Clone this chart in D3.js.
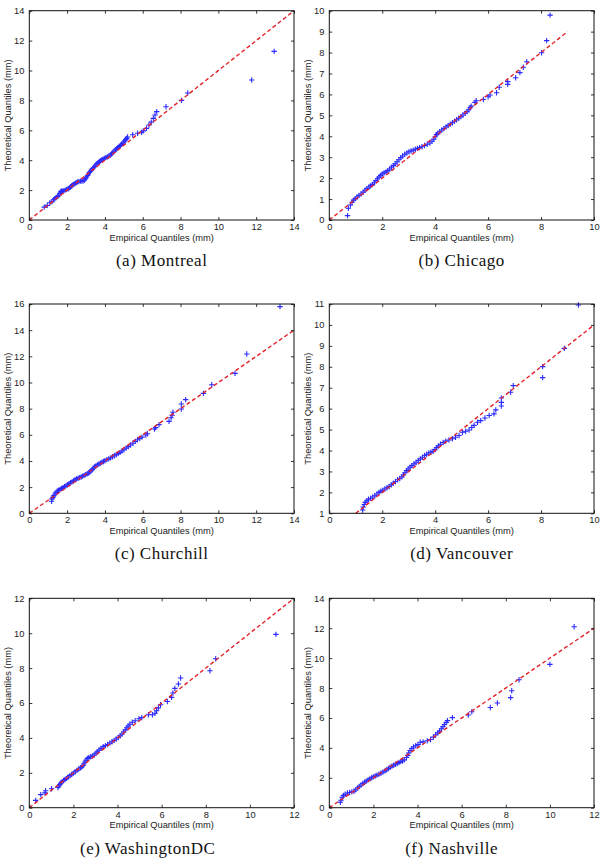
<!DOCTYPE html>
<html><head><meta charset="utf-8">
<script src="https://cdn.jsdelivr.net/npm/d3@7"></script>
<style>
body{margin:0;background:#fff}
</style>
</head><body>
<svg id="chart" width="603" height="864"></svg>
<script>
// Empirical (x) vs theoretical (y) quantiles, mm
const montrealQ = [[0.79,0.86],[0.95,0.98],[1.09,1.15],[1.2,1.22],[1.28,1.35],[1.35,1.42],[1.42,1.5],[1.5,1.58],[1.56,1.66],[1.62,1.78],[1.66,1.88],[1.7,1.93],[1.76,1.92],[1.82,1.95],[1.9,2.0],[1.98,2.05],[2.06,2.08],[2.12,2.15],[2.18,2.22],[2.24,2.27],[2.3,2.33],[2.36,2.4],[2.42,2.45],[2.48,2.5],[2.55,2.55],[2.62,2.57],[2.7,2.6],[2.78,2.6],[2.85,2.63],[2.92,2.68],[2.98,2.76],[3.03,2.88],[3.08,2.98],[3.13,3.08],[3.18,3.18],[3.23,3.26],[3.28,3.33],[3.34,3.42],[3.4,3.5],[3.46,3.6],[3.52,3.68],[3.58,3.76],[3.64,3.84],[3.7,3.9],[3.76,3.96],[3.83,4.02],[3.9,4.07],[3.97,4.12],[4.05,4.18],[4.13,4.22],[4.2,4.26],[4.28,4.33],[4.35,4.42],[4.42,4.52],[4.48,4.6],[4.55,4.68],[4.62,4.76],[4.68,4.84],[4.75,4.92],[4.82,4.98],[4.88,5.06],[4.95,5.14],[5.0,5.22],[5.06,5.3],[5.1,5.38],[5.15,5.46],[5.2,5.55],[5.47,5.7],[5.73,5.8],[5.94,5.86],[6.03,5.96],[6.2,6.13],[6.33,6.35],[6.45,6.55],[6.56,6.8],[6.65,7.02],[6.74,7.25],[7.23,7.58],[8.05,8.0],[8.38,8.5],[11.76,9.36],[12.95,11.28]];
const chicagoQ = [[0.69,0.21],[0.72,0.56],[0.8,0.72],[0.86,0.85],[0.92,0.95],[0.98,1.02],[1.05,1.1],[1.12,1.17],[1.2,1.24],[1.28,1.33],[1.35,1.42],[1.42,1.5],[1.5,1.58],[1.56,1.63],[1.63,1.7],[1.7,1.78],[1.76,1.88],[1.82,1.97],[1.88,2.05],[1.94,2.13],[2.0,2.2],[2.07,2.25],[2.14,2.3],[2.21,2.36],[2.28,2.44],[2.35,2.52],[2.42,2.6],[2.49,2.68],[2.56,2.78],[2.63,2.88],[2.7,2.98],[2.77,3.06],[2.85,3.14],[2.93,3.2],[3.01,3.26],[3.09,3.3],[3.17,3.34],[3.25,3.38],[3.33,3.42],[3.41,3.46],[3.5,3.5],[3.6,3.56],[3.7,3.62],[3.8,3.68],[3.88,3.76],[3.95,3.86],[4.0,3.98],[4.05,4.08],[4.1,4.15],[4.17,4.22],[4.25,4.3],[4.33,4.37],[4.41,4.44],[4.49,4.51],[4.57,4.58],[4.65,4.65],[4.73,4.72],[4.81,4.79],[4.89,4.86],[4.97,4.94],[5.05,5.02],[5.13,5.1],[5.2,5.18],[5.27,5.27],[5.32,5.36],[5.36,5.44],[5.5,5.62],[5.55,5.7],[5.82,5.76],[6.0,5.89],[6.07,5.97],[6.32,6.08],[6.42,6.34],[6.74,6.48],[6.74,6.61],[7.04,6.8],[7.2,7.04],[7.33,7.3],[7.46,7.56],[8.02,7.99],[8.21,8.57],[8.34,9.79]];
const churchillQ = [[1.18,0.92],[1.2,1.1],[1.25,1.22],[1.3,1.35],[1.36,1.48],[1.42,1.6],[1.48,1.7],[1.55,1.76],[1.62,1.82],[1.7,1.9],[1.78,1.96],[1.86,2.04],[1.94,2.1],[2.02,2.18],[2.1,2.26],[2.18,2.33],[2.26,2.4],[2.34,2.48],[2.42,2.56],[2.5,2.63],[2.58,2.68],[2.66,2.73],[2.74,2.78],[2.82,2.84],[2.9,2.9],[2.98,2.96],[3.06,3.02],[3.14,3.08],[3.2,3.16],[3.26,3.24],[3.32,3.34],[3.38,3.44],[3.45,3.54],[3.52,3.62],[3.6,3.7],[3.68,3.77],[3.76,3.83],[3.84,3.9],[3.92,3.96],[4.0,4.02],[4.1,4.1],[4.2,4.16],[4.3,4.24],[4.4,4.32],[4.5,4.4],[4.6,4.48],[4.7,4.56],[4.8,4.66],[4.9,4.76],[5.0,4.86],[5.12,4.98],[5.24,5.1],[5.36,5.22],[5.48,5.36],[5.6,5.5],[5.72,5.62],[5.84,5.72],[5.96,5.82],[6.16,5.98],[6.25,6.08],[6.62,6.45],[6.68,6.55],[6.86,6.78],[7.39,7.03],[7.5,7.3],[7.55,7.5],[7.6,7.72],[8.04,7.97],[8.04,8.36],[8.27,8.69],[9.21,9.17],[9.65,9.83],[10.88,10.7],[11.5,12.18],[13.26,15.8]];
const vancouverQ = [[1.26,1.16],[1.28,1.3],[1.32,1.42],[1.36,1.52],[1.42,1.6],[1.48,1.67],[1.56,1.72],[1.64,1.78],[1.72,1.84],[1.8,1.92],[1.88,2.0],[1.95,2.06],[2.02,2.1],[2.1,2.16],[2.18,2.22],[2.26,2.28],[2.34,2.36],[2.42,2.44],[2.5,2.52],[2.58,2.6],[2.66,2.66],[2.74,2.74],[2.8,2.84],[2.86,2.94],[2.92,3.04],[2.98,3.12],[3.05,3.2],[3.12,3.28],[3.2,3.36],[3.28,3.44],[3.36,3.52],[3.44,3.6],[3.52,3.68],[3.6,3.76],[3.68,3.82],[3.76,3.88],[3.84,3.92],[3.92,3.96],[3.99,4.04],[4.05,4.14],[4.12,4.22],[4.2,4.3],[4.3,4.38],[4.4,4.45],[4.52,4.5],[4.65,4.56],[4.77,4.63],[4.9,4.72],[5.03,4.87],[5.15,4.92],[5.28,4.98],[5.38,5.1],[5.47,5.2],[5.6,5.35],[5.72,5.43],[5.88,5.55],[6.04,5.67],[6.22,5.75],[6.29,5.94],[6.5,6.13],[6.5,6.3],[6.5,6.51],[6.85,6.78],[6.95,7.1],[8.06,7.48],[8.06,8.01],[8.88,8.88],[9.41,10.95]];
const washingtonQ = [[0.29,0.42],[0.52,0.75],[0.71,0.85],[0.74,0.97],[1.01,1.09],[1.3,1.16],[1.34,1.24],[1.38,1.32],[1.42,1.4],[1.48,1.48],[1.55,1.56],[1.62,1.62],[1.69,1.68],[1.76,1.76],[1.84,1.84],[1.92,1.9],[2.0,1.98],[2.08,2.06],[2.16,2.14],[2.24,2.22],[2.32,2.28],[2.38,2.34],[2.44,2.42],[2.48,2.52],[2.52,2.62],[2.57,2.72],[2.63,2.82],[2.7,2.88],[2.78,2.92],[2.86,2.96],[2.94,3.02],[3.02,3.12],[3.08,3.2],[3.16,3.3],[3.25,3.4],[3.35,3.5],[3.45,3.56],[3.55,3.62],[3.65,3.7],[3.75,3.78],[3.85,3.86],[3.94,3.94],[4.03,4.02],[4.12,4.12],[4.2,4.22],[4.28,4.34],[4.35,4.46],[4.42,4.58],[4.48,4.68],[4.56,4.78],[4.67,4.9],[4.8,4.98],[4.97,5.1],[5.1,5.16],[5.4,5.33],[5.58,5.33],[5.7,5.41],[5.77,5.56],[5.85,5.72],[5.95,5.9],[6.26,6.09],[6.45,6.32],[6.51,6.57],[6.6,6.84],[6.76,7.09],[6.86,7.43],[8.19,7.85],[8.45,8.54],[11.18,9.93]];
const nashvilleQ = [[0.5,0.36],[0.53,0.5],[0.58,0.7],[0.64,0.82],[0.72,0.9],[0.82,0.98],[0.92,1.02],[1.02,1.06],[1.12,1.1],[1.2,1.2],[1.28,1.32],[1.36,1.42],[1.44,1.52],[1.52,1.62],[1.6,1.7],[1.68,1.78],[1.76,1.86],[1.84,1.93],[1.92,2.0],[2.0,2.06],[2.08,2.12],[2.16,2.18],[2.25,2.24],[2.34,2.3],[2.43,2.38],[2.52,2.46],[2.6,2.54],[2.68,2.62],[2.76,2.7],[2.84,2.78],[2.92,2.84],[3.0,2.9],[3.08,2.96],[3.16,3.02],[3.24,3.08],[3.32,3.12],[3.4,3.2],[3.5,3.36],[3.56,3.5],[3.6,3.66],[3.66,3.82],[3.74,3.96],[3.82,4.06],[3.92,4.14],[4.02,4.22],[4.12,4.38],[4.25,4.4],[4.44,4.48],[4.59,4.56],[4.72,4.72],[4.82,4.88],[4.92,5.0],[5.0,5.12],[5.08,5.28],[5.15,5.42],[5.22,5.56],[5.3,5.7],[5.36,5.82],[5.58,6.02],[6.3,6.2],[6.46,6.42],[7.3,6.7],[7.62,7.0],[8.22,7.36],[8.27,7.82],[8.6,8.55],[10.0,9.58],[11.1,12.1]];

// Reference lines (endpoints in data units)
const montrealRef = [[0,0],[14,14]];
const chicagoRef = [[0,0],[9,9]];
const churchillRef = [[0,0],[14,14]];
const vancouverRef = [[1,1],[10,10]];
const washingtonRef = [[0,0],[12,12]];
const nashvilleRef = [[0,0],[12,12]];

// Axis domains and ticks
const montrealX = [0,14], montrealY = [0,14];
const chicagoX = [0,10], chicagoY = [0,10];
const churchillX = [0,14], churchillY = [0,16];
const vancouverX = [0,10], vancouverY = [1,11];
const washingtonX = [0,12], washingtonY = [0,12];
const nashvilleX = [0,12], nashvilleY = [0,14];
const montrealTicksX = [0,2,4,6,8,10,12,14], montrealTicksY = [0,2,4,6,8,10,12,14];
const chicagoTicksX = [0,2,4,6,8,10], chicagoTicksY = [0,1,2,3,4,5,6,7,8,9,10];
const churchillTicksX = [0,2,4,6,8,10,12,14], churchillTicksY = [0,2,4,6,8,10,12,14,16];
const vancouverTicksX = [0,2,4,6,8,10], vancouverTicksY = [1,2,3,4,5,6,7,8,9,10,11];
const washingtonTicksX = [0,2,4,6,8,10,12], washingtonTicksY = [0,2,4,6,8,10,12];
const nashvilleTicksX = [0,2,4,6,8,10,12], nashvilleTicksY = [0,2,4,6,8,10,12,14];

const captions = ["(a) Montreal","(b) Chicago","(c) Churchill","(d) Vancouver","(e) WashingtonDC","(f) Nashville"];
const xTitle = "Empirical Quantiles (mm)";
const yTitle = "Theoretical Quantiles (mm)";

// layout
const colX = [[29.3,294],[329.3,594]];
const rowY = [[10.7,220],[304,513.3],[598.3,807.7]];
const capDX = [0,0,0,0,-14,-10];
const SANS = "'Liberation Sans', Arial, sans-serif";
const SERIF = "'Liberation Serif', 'Times New Roman', serif";

const panels = [
  {q:montrealQ, ref:montrealRef, xd:montrealX, yd:montrealY, tx:montrealTicksX, ty:montrealTicksY},
  {q:chicagoQ, ref:chicagoRef, xd:chicagoX, yd:chicagoY, tx:chicagoTicksX, ty:chicagoTicksY},
  {q:churchillQ, ref:churchillRef, xd:churchillX, yd:churchillY, tx:churchillTicksX, ty:churchillTicksY},
  {q:vancouverQ, ref:vancouverRef, xd:vancouverX, yd:vancouverY, tx:vancouverTicksX, ty:vancouverTicksY},
  {q:washingtonQ, ref:washingtonRef, xd:washingtonX, yd:washingtonY, tx:washingtonTicksX, ty:washingtonTicksY},
  {q:nashvilleQ, ref:nashvilleRef, xd:nashvilleX, yd:nashvilleY, tx:nashvilleTicksX, ty:nashvilleTicksY}
];

const svg = d3.select("#chart");
const FS = 9.3;

panels.forEach((p, i) => {
  const [x0, x1] = colX[i % 2];
  const [y0, y1] = rowY[Math.floor(i / 2)];
  const x = d3.scaleLinear().domain(p.xd).range([x0, x1]);
  const y = d3.scaleLinear().domain(p.yd).range([y1, y0]);
  const g = svg.append("g");

  const clipId = "clip" + i;
  g.append("clipPath").attr("id", clipId).append("rect")
    .attr("x", x0 - 3).attr("y", y0 - 3).attr("width", x1 - x0 + 6).attr("height", y1 - y0 + 6);

  // points
  const s = 2.7;
  g.append("g").attr("clip-path", `url(#${clipId})`).selectAll("path").data(p.q).join("path")
    .attr("d", d => { const cx = x(d[0]), cy = y(d[1]); return `M${cx - s},${cy}H${cx + s}M${cx},${cy - s}V${cy + s}`; })
    .attr("stroke", "#2a2aff").attr("stroke-width", 1.1).attr("fill", "none");

  // reference line
  g.append("line")
    .attr("x1", x(p.ref[0][0])).attr("y1", y(p.ref[0][1]))
    .attr("x2", x(p.ref[1][0])).attr("y2", y(p.ref[1][1]))
    .attr("stroke", "#e3232a").attr("stroke-width", 1.4).attr("stroke-dasharray", "4,2.6");

  // axes
  const fmt = d3.format("d");
  const ax = (gen, tr, labels) => {
    const a = g.append("g").attr("transform", tr).call(gen);
    a.select(".domain").remove();
    a.selectAll(".tick line").attr("stroke", "#000").attr("stroke-width", 0.8);
    a.selectAll("text").attr("font-size", FS).attr("fill", "#222").style("font-family", SANS);
    if (!labels) a.selectAll("text").remove();
    return a;
  };
  ax(d3.axisBottom(x).tickValues(p.tx).tickFormat(fmt).tickSize(-3).tickPadding(3.5), `translate(0,${y1})`, true);
  ax(d3.axisTop(x).tickValues(p.tx).tickSize(-3), `translate(0,${y0})`, false);
  ax(d3.axisLeft(y).tickValues(p.ty).tickFormat(fmt).tickSize(-3).tickPadding(5), `translate(${x0},0)`, true);
  ax(d3.axisRight(y).tickValues(p.ty).tickSize(-3), `translate(${x1},0)`, false);

  // frame
  g.append("rect").attr("x", x0).attr("y", y0).attr("width", x1 - x0).attr("height", y1 - y0)
    .attr("fill", "none").attr("stroke", "#111").attr("stroke-width", 1);

  // axis titles
  g.append("text").attr("x", (x0 + x1) / 2).attr("y", y1 + 20.5)
    .attr("text-anchor", "middle").attr("font-size", FS).attr("fill", "#222").style("font-family", SANS).text(xTitle);
  g.append("text").attr("transform", `translate(${x0 - 18.5},${(y0 + y1) / 2}) rotate(-90)`)
    .attr("text-anchor", "middle").attr("font-size", FS).attr("fill", "#222").style("font-family", SANS).text(yTitle);

  // caption
  g.append("text").attr("x", (x0 + x1) / 2 + capDX[i]).attr("y", y1 + 46)
    .attr("text-anchor", "middle").attr("font-size", 17).attr("letter-spacing", 0.5)
    .style("font-family", SERIF).attr("fill", "#111")
    .text(captions[i]);
});
</script>
</body></html>
